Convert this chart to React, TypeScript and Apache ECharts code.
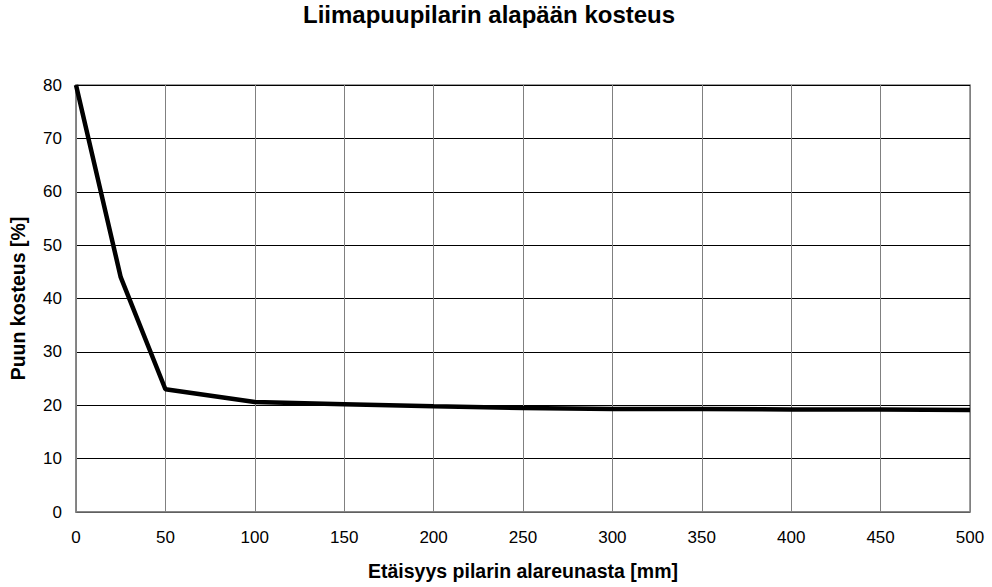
import React, { useEffect, useRef } from "react";
import * as echarts from "echarts";

const distances = [0, 25, 50, 100, 150, 200, 250, 300, 350, 400, 450, 500];
const moisture = [80, 44, 23, 20.6, 20.2, 19.8, 19.5, 19.3, 19.3, 19.2, 19.2, 19.1];
const titleText = "Liimapuupilarin alapään kosteus";
const xName = "Etäisyys pilarin alareunasta [mm]";
const yName = "Puun kosteus [%]";

export default function App() {
  const ref = useRef<HTMLDivElement>(null);
  useEffect(() => {
    if (!ref.current) return;
    const chart = echarts.init(ref.current, null, { renderer: "svg" });
    const font = "'Liberation Sans', Arial, sans-serif";
    chart.setOption({
      animation: false,
      backgroundColor: "#fff",
      title: {
        text: titleText,
        left: 303,
        top: 2,
        padding: 0,
        textStyle: { fontFamily: font, fontSize: 24, fontWeight: "bold", color: "#000" },
      },
      grid: { left: 76, right: 22, top: 85, bottom: 75, show: true, borderColor: "#808080", borderWidth: 1.5 },
      xAxis: {
        type: "value",
        min: 0,
        max: 500,
        interval: 50,
        name: xName,
        nameLocation: "middle",
        nameGap: 49,
        nameTextStyle: { fontFamily: font, fontSize: 19.5, fontWeight: "bold", color: "#000" },
        axisLine: { show: true, lineStyle: { color: "#808080", width: 1.5 } },
        axisTick: { show: false },
        axisLabel: { fontFamily: font, fontSize: 17, color: "#000", margin: 17 },
        splitLine: { show: true, lineStyle: { color: "#808080", width: 1 } },
      },
      yAxis: {
        type: "value",
        min: 0,
        max: 80,
        interval: 10,
        name: yName,
        nameLocation: "middle",
        nameGap: 48,
        nameTextStyle: { fontFamily: font, fontSize: 19.5, fontWeight: "bold", color: "#000" },
        axisLine: { show: true, lineStyle: { color: "#808080", width: 1.5 } },
        axisTick: { show: false },
        axisLabel: { fontFamily: font, fontSize: 17, color: "#000", margin: 14 },
        splitLine: { show: true, lineStyle: { color: "#000", width: 1 } },
      },
      series: [
        {
          type: "line",
          data: distances.map((d, i) => [d, moisture[i]]),
          showSymbol: false,
          symbol: "none",
          lineStyle: { color: "#000", width: 4.5 },
        },
      ],
    });
    return () => chart.dispose();
  }, []);
  return (
    <div
      ref={ref}
      style={{ position: "fixed", left: 0, top: 0, width: 992, height: 587, background: "#fff" }}
    />
  );
}
